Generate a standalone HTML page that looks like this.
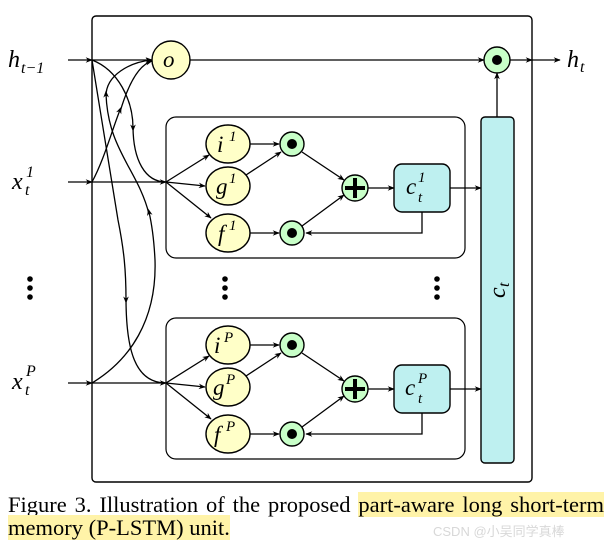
<!DOCTYPE html>
<html><head><meta charset="utf-8"><style>
html,body{margin:0;padding:0;background:#fff;width:610px;height:549px;overflow:hidden;position:relative}
svg{display:block}
.m{font-family:"Liberation Serif",serif;font-style:italic}
.cap{position:absolute;left:8px;top:493px;width:596px;font-family:"Liberation Serif",serif;font-size:22.5px;line-height:23px;color:#000}
.l1{display:block;text-align:justify;text-align-last:justify;white-space:nowrap}
.hl{background:#fff3a8}
.wm{position:absolute;left:433px;top:521px;font-family:"Liberation Sans","Noto Sans CJK SC",sans-serif;font-size:13px;color:#d8d8d8}
</style></head><body>
<svg width="610" height="549" viewBox="0 0 610 549" xmlns="http://www.w3.org/2000/svg">
<defs>
<marker id="a" viewBox="0 0 10 10" refX="9" refY="5" markerWidth="7" markerHeight="7" orient="auto-start-reverse" markerUnits="userSpaceOnUse"><path d="M0,1 L10,5 L0,9 L3,5z" fill="#000"/></marker>
<marker id="mid" viewBox="0 0 10 10" refX="5" refY="5" markerWidth="7" markerHeight="7" orient="auto" markerUnits="userSpaceOnUse"><path d="M0,1 L10,5 L0,9 L3,5z" fill="#000"/></marker>
<g id="unit">
<rect x="166" y="117" width="299" height="141" rx="10" fill="none" stroke="#000" stroke-width="1.2"/>
<line x1="166" y1="182" x2="205" y2="186" stroke="#000" stroke-width="1.3" marker-end="url(#a)"/>
<line x1="166" y1="182" x2="209" y2="155" stroke="#000" stroke-width="1.3" marker-end="url(#a)"/>
<line x1="166" y1="182" x2="211" y2="218" stroke="#000" stroke-width="1.3" marker-end="url(#a)"/>
<line x1="250" y1="144" x2="279" y2="144" stroke="#000" stroke-width="1.3" marker-end="url(#a)"/>
<line x1="246" y1="175" x2="281" y2="152" stroke="#000" stroke-width="1.3" marker-end="url(#a)"/>
<line x1="250" y1="233" x2="279" y2="233" stroke="#000" stroke-width="1.3" marker-end="url(#a)"/>
<line x1="302" y1="152" x2="344" y2="180" stroke="#000" stroke-width="1.3" marker-end="url(#a)"/>
<line x1="302" y1="226" x2="344" y2="195" stroke="#000" stroke-width="1.3" marker-end="url(#a)"/>
<line x1="368" y1="188" x2="394" y2="188" stroke="#000" stroke-width="1.3" marker-end="url(#a)"/>
<path d="M422 212 V233 H306" fill="none" stroke="#000" stroke-width="1.3" marker-end="url(#a)"/>
<line x1="450" y1="188" x2="481" y2="188" stroke="#000" stroke-width="1.3" marker-end="url(#a)"/>
<ellipse cx="228" cy="144" rx="22" ry="19" fill="#ffffc8" stroke="#000" stroke-width="1.4"/>
<ellipse cx="228" cy="186" rx="22" ry="19" fill="#ffffc8" stroke="#000" stroke-width="1.4"/>
<ellipse cx="228" cy="233" rx="22" ry="19" fill="#ffffc8" stroke="#000" stroke-width="1.4"/>
<circle cx="292" cy="144" r="12" fill="#c8ffc8" stroke="#000" stroke-width="1.4"/><circle cx="292" cy="144" r="5" fill="#000"/>
<circle cx="292" cy="233" r="12" fill="#c8ffc8" stroke="#000" stroke-width="1.4"/><circle cx="292" cy="233" r="5" fill="#000"/>
<circle cx="355" cy="188" r="13" fill="#c8ffc8" stroke="#000" stroke-width="1.4"/>
<path d="M345 188 H365 M355 178 V198" stroke="#000" stroke-width="4"/>
<rect x="394" y="164" width="56" height="48" rx="8" fill="#bef0f0" stroke="#000" stroke-width="1.4"/>
</g>
</defs>
<rect x="92" y="16" width="440" height="466" rx="4" fill="none" stroke="#000" stroke-width="1.4"/>
<use href="#unit"/>
<use href="#unit" transform="translate(0,201)"/>
<text class="m" x="217" y="152" font-size="23">i</text><text class="m" x="229" y="141" font-size="15">1</text>
<text class="m" x="216" y="194" font-size="23">g</text><text class="m" x="229" y="183" font-size="15">1</text>
<text class="m" x="218" y="241" font-size="23">f</text><text class="m" x="229" y="230" font-size="15">1</text>
<text class="m" x="406" y="194" font-size="23">c</text><text class="m" x="418" y="182" font-size="15">1</text><text class="m" x="418" y="202" font-size="15">t</text>
<text class="m" x="214" y="353" font-size="23">i</text><text class="m" x="224" y="342" font-size="15">P</text>
<text class="m" x="213" y="395" font-size="23">g</text><text class="m" x="226" y="384" font-size="15">P</text>
<text class="m" x="214" y="442" font-size="23">f</text><text class="m" x="226" y="431" font-size="15">P</text>
<text class="m" x="405" y="395" font-size="23">c</text><text class="m" x="418" y="383" font-size="15">P</text><text class="m" x="418" y="403" font-size="15">t</text>
<rect x="481" y="117" width="33" height="346" rx="4" fill="#bef0f0" stroke="#000" stroke-width="1.4"/>
<text class="m" x="0" y="0" font-size="24" transform="translate(505,298) rotate(-90)">c</text>
<text class="m" x="0" y="0" font-size="16" transform="translate(509,287) rotate(-90)">t</text>
<line x1="68" y1="60" x2="92" y2="60" stroke="#000" stroke-width="1.3" marker-end="url(#a)"/>
<line x1="92" y1="60" x2="152" y2="60" stroke="#000" stroke-width="1.3" marker-end="url(#a)"/>
<line x1="190" y1="60" x2="484" y2="60" stroke="#000" stroke-width="1.3" marker-end="url(#a)"/>
<line x1="497" y1="117" x2="497" y2="73" stroke="#000" stroke-width="1.3" marker-end="url(#a)"/>
<line x1="510" y1="60" x2="532" y2="60" stroke="#000" stroke-width="1.3" marker-end="url(#a)"/>
<line x1="532" y1="60" x2="560" y2="60" stroke="#000" stroke-width="1.3" marker-end="url(#a)"/>
<circle cx="171" cy="60" r="19" fill="#ffffc8" stroke="#000" stroke-width="1.4"/>
<text class="m" x="163" y="67" font-size="23">o</text>
<circle cx="497" cy="60" r="13" fill="#c8ffc8" stroke="#000" stroke-width="1.4"/><circle cx="497" cy="60" r="5" fill="#000"/>
<line x1="68" y1="182" x2="92" y2="182" stroke="#000" stroke-width="1.3" marker-end="url(#a)"/>
<line x1="92" y1="182" x2="166" y2="182" stroke="#000" stroke-width="1.3" marker-end="url(#a)"/>
<line x1="68" y1="383" x2="92" y2="383" stroke="#000" stroke-width="1.3" marker-end="url(#a)"/>
<line x1="92" y1="383" x2="166" y2="383" stroke="#000" stroke-width="1.3" marker-end="url(#a)"/>
<g fill="none" stroke="#000" stroke-width="1.3">
<path d="M92 60 C118 70,133 100,133 128" marker-end="url(#mid)"/>
<path d="M133 126 C133 160,145 182,166 182"/>
<path d="M92 60 L118 220 C124 250,126 270,126 300" marker-end="url(#mid)"/>
<path d="M126 298 C126 350,135 383,166 383"/>
<path d="M92 182 C104 160,112 130,120 110" marker-end="url(#mid)"/>
<path d="M120 112 C128 85,138 65,152 61" marker-end="url(#a)"/>
<path d="M92 383 C130 360,157 320,155 260 C154 240,152 225,149 212" marker-end="url(#mid)"/>
<path d="M149 214 C138 170,108 150,106 94" marker-end="url(#mid)"/>
<path d="M106 96 C106 75,130 62,152 60" marker-end="url(#a)"/>
</g>
<text class="m" x="8" y="67" font-size="24">h</text><text class="m" x="21" y="73" font-size="16">t−1</text>
<text class="m" x="12" y="189" font-size="24">x</text><text class="m" x="26" y="177" font-size="16">1</text><text class="m" x="25" y="195" font-size="16">t</text>
<text class="m" x="12" y="389" font-size="24">x</text><text class="m" x="26" y="376" font-size="16">P</text><text class="m" x="25" y="395" font-size="16">t</text>
<text class="m" x="567" y="67" font-size="24">h</text><text class="m" x="580" y="72" font-size="16">t</text>
<g fill="#000">
<circle cx="30" cy="279" r="2.8"/><circle cx="30" cy="288" r="2.8"/><circle cx="30" cy="297" r="2.8"/>
<circle cx="225" cy="279" r="2.8"/><circle cx="225" cy="288" r="2.8"/><circle cx="225" cy="297" r="2.8"/>
<circle cx="437" cy="279" r="2.8"/><circle cx="437" cy="288" r="2.8"/><circle cx="437" cy="297" r="2.8"/>
</g>
</svg>
<div class="cap"><span class="l1">Figure 3. Illustration of the proposed <span class="hl">part-aware long short-term</span></span><span class="hl">memory (P-LSTM) unit.</span></div>
<div class="wm">CSDN @小吴同学真棒</div>
</body></html>
